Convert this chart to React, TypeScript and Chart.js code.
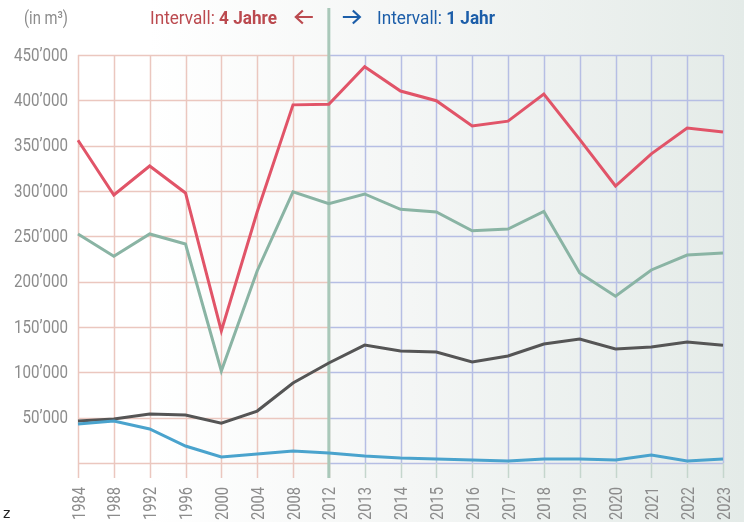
import React, { useEffect, useRef } from "react";
import { Chart, registerables } from "chart.js";

Chart.register(...registerables);

const years = ["1984","1988","1992","1996","2000","2004","2008","2012","2013","2014","2015","2016","2017","2018","2019","2020","2021","2022","2023"];
const redSeries = [356000,295600,327600,297800,145600,276800,395000,395600,437000,410300,399600,371700,377000,407000,357000,305500,341000,369500,365000];
const greenSeries = [252600,228000,252600,241500,101500,211800,299000,286000,296700,279800,276800,256200,258000,277500,209500,184000,212900,229400,231600];
const darkSeries = [46300,48500,54000,53000,44000,57300,88200,110300,130000,123500,122400,111400,118000,131200,136800,125700,128000,133500,130000];
const blueSeries = [43000,46300,37500,18700,6600,9900,13200,11000,7700,5500,4400,3300,2200,4400,4400,3300,8800,2200,4400];
const yTicks = [0,50000,100000,150000,200000,250000,300000,350000,400000,450000];
const splitIndex = 7;

const FONT = "Roboto, 'DejaVu Sans', sans-serif";
const GREY = "#8c8c8c";

const fmt = (v: number) => {
  if (v === 0) return "";
  const s = String(Math.round(v));
  return s.replace(/\B(?=(\d{3})+(?!\d))/g, "\u2019");
};

// draw horizontally condensed text
function drawCondensed(ctx: CanvasRenderingContext2D, text: string, x: number, y: number, sx: number, align: CanvasTextAlign) {
  ctx.save();
  ctx.translate(x, y);
  ctx.scale(sx, 1);
  ctx.textAlign = align;
  ctx.fillText(text, 0, 0);
  ctx.restore();
}

const decorPlugin = {
  id: "decor",
  beforeDraw(chart: any) {
    const ctx = chart.ctx;
    const w = chart.width, h = chart.height;
    ctx.save();
    const g = ctx.createLinearGradient(0, 0, w, 0);
    g.addColorStop(0, "#ffffff");
    g.addColorStop(0.2, "#ffffff");
    g.addColorStop(0.55, "#f4f6f5");
    g.addColorStop(1, "#e4ebe8");
    ctx.fillStyle = g;
    ctx.fillRect(0, 0, w, h);
    ctx.restore();
  },
  beforeDatasetsDraw(chart: any) {
    const ctx = chart.ctx;
    const xs = chart.scales.x, ys = chart.scales.y;
    const a = chart.chartArea;
    const splitX = xs.getPixelForValue(splitIndex);
    const pink = "#ebc7bf";
    const blue = "#b6bee4";
    ctx.save();
    ctx.lineWidth = 1.5;
    for (const v of yTicks) {
      const py = Math.round(ys.getPixelForValue(v)) + 0.5;
      ctx.strokeStyle = pink;
      ctx.beginPath(); ctx.moveTo(a.left, py); ctx.lineTo(splitX, py); ctx.stroke();
      ctx.strokeStyle = blue;
      ctx.beginPath(); ctx.moveTo(splitX, py); ctx.lineTo(a.right, py); ctx.stroke();
    }
    for (let i = 0; i < years.length; i++) {
      const px = Math.round(xs.getPixelForValue(i)) + 0.5;
      ctx.strokeStyle = i <= splitIndex ? pink : blue;
      ctx.beginPath(); ctx.moveTo(px, a.top); ctx.lineTo(px, a.bottom); ctx.stroke();
      ctx.strokeStyle = i <= splitIndex ? pink : "#c5d6cd";
      ctx.beginPath(); ctx.moveTo(px, a.bottom); ctx.lineTo(px, a.bottom + 15); ctx.stroke();
    }
    ctx.strokeStyle = "#a9c8b9";
    ctx.lineWidth = 3;
    ctx.beginPath(); ctx.moveTo(splitX, 8); ctx.lineTo(splitX, a.bottom + 15); ctx.stroke();
    ctx.restore();
  },
  afterDraw(chart: any) {
    const ctx: CanvasRenderingContext2D = chart.ctx;
    const xs = chart.scales.x, ys = chart.scales.y;
    const a = chart.chartArea;
    const splitX = xs.getPixelForValue(splitIndex);
    ctx.save();

    // y tick labels (from scale ticks)
    ctx.fillStyle = GREY;
    ctx.font = `18px ${FONT}`;
    ctx.textBaseline = "middle";
    const refW = ctx.measureText("450\u2019000").width;
    const syY = 54 / refW;
    for (const t of ys.ticks) {
      const label = fmt(t.value);
      if (!label) continue;
      drawCondensed(ctx, label, a.left - 10, ys.getPixelForValue(t.value) + 1, syY, "right");
    }

    // x tick labels, rotated
    ctx.font = `18px ${FONT}`;
    ctx.textBaseline = "alphabetic";
    const refX = ctx.measureText("1984").width;
    const sxX = 33 / refX;
    for (let i = 0; i < years.length; i++) {
      const px = xs.getPixelForValue(i);
      ctx.save();
      ctx.translate(px, a.bottom + 24);
      ctx.rotate(-Math.PI / 2);
      ctx.scale(sxX, 1);
      ctx.textAlign = "right";
      ctx.fillText(xs.getLabelForValue(i), 0, 6.5);
      ctx.restore();
    }

    // header
    const base = 23.5;
    ctx.textBaseline = "alphabetic";
    ctx.fillStyle = GREY;
    ctx.font = `18px ${FONT}`;
    const unit = "(in m\u00b3)";
    drawCondensed(ctx, unit, 24, base, 44 / ctx.measureText(unit).width, "left");

    const red = "#bb4a4f";
    const blueT = "#1c5ea9";
    const drawHeader = (color: string, x0: number, bold: string, target: number) => {
      ctx.fillStyle = color;
      ctx.font = `19px ${FONT}`;
      const w1 = ctx.measureText("Intervall: ").width;
      ctx.font = `bold 19px ${FONT}`;
      const w2 = ctx.measureText(bold).width;
      const s = target / (w1 + w2);
      ctx.save();
      ctx.translate(x0, base);
      ctx.scale(s, 1);
      ctx.textAlign = "left";
      ctx.font = `19px ${FONT}`;
      ctx.fillText("Intervall: ", 0, 0);
      ctx.font = `bold 19px ${FONT}`;
      ctx.fillText(bold, w1, 0);
      ctx.restore();
    };
    drawHeader(red, 150, "4 Jahre", 127);
    drawHeader(blueT, 377, "1 Jahr", 118);

    // arrows
    ctx.lineWidth = 2.2;
    const ay = 17;
    ctx.strokeStyle = red;
    ctx.beginPath();
    ctx.moveTo(splitX - 16, ay); ctx.lineTo(splitX - 33, ay);
    ctx.moveTo(splitX - 26, ay - 6.5); ctx.lineTo(splitX - 33, ay); ctx.lineTo(splitX - 26, ay + 6.5);
    ctx.stroke();
    ctx.strokeStyle = blueT;
    ctx.beginPath();
    ctx.moveTo(splitX + 14, ay); ctx.lineTo(splitX + 31, ay);
    ctx.moveTo(splitX + 24, ay - 6.5); ctx.lineTo(splitX + 31, ay); ctx.lineTo(splitX + 24, ay + 6.5);
    ctx.stroke();

    // stray z
    ctx.fillStyle = "#222";
    ctx.font = `14px 'DejaVu Sans', sans-serif`;
    ctx.textAlign = "left";
    ctx.fillText("z", 3, 518);
    ctx.restore();
  },
};

export default function App() {
  const ref = useRef<HTMLCanvasElement | null>(null);
  useEffect(() => {
    if (!ref.current) return;
    const mk = (label: string, data: number[], color: string) => ({
      label, data, borderColor: color, backgroundColor: color,
      borderWidth: 3, pointRadius: 0, tension: 0, fill: false,
    });
    const chart = new Chart(ref.current, {
      type: "line",
      data: {
        labels: years,
        datasets: [
          mk("blue", blueSeries, "#4aa3cd"),
          mk("dark", darkSeries, "#555555"),
          mk("green", greenSeries, "#8ab4a4"),
          mk("red", redSeries, "#e15468"),
        ],
      },
      options: {
        responsive: false,
        animation: false,
        layout: { padding: { top: 55, right: 21, left: 0, bottom: 0 } },
        plugins: { legend: { display: false }, tooltip: { enabled: false } },
        scales: {
          x: {
            grid: { display: false },
            border: { display: false },
            ticks: { display: false, autoSkip: false },
            afterFit: (s: any) => { s.height = 59; s.paddingLeft = 0; s.paddingRight = 0; },
          },
          y: {
            min: 0, max: 450000,
            grid: { display: false },
            border: { display: false },
            ticks: { display: false, stepSize: 50000 },
            afterFit: (s: any) => { s.width = 78; s.paddingTop = 0; s.paddingBottom = 0; },
          },
        },
      },
      plugins: [decorPlugin],
    });
    return () => chart.destroy();
  }, []);
  return (
    <div style={{ position: "absolute", left: 0, top: 0, width: 744, height: 522 }}>
      <canvas ref={ref} width={744} height={522} style={{ display: "block" }} />
    </div>
  );
}
